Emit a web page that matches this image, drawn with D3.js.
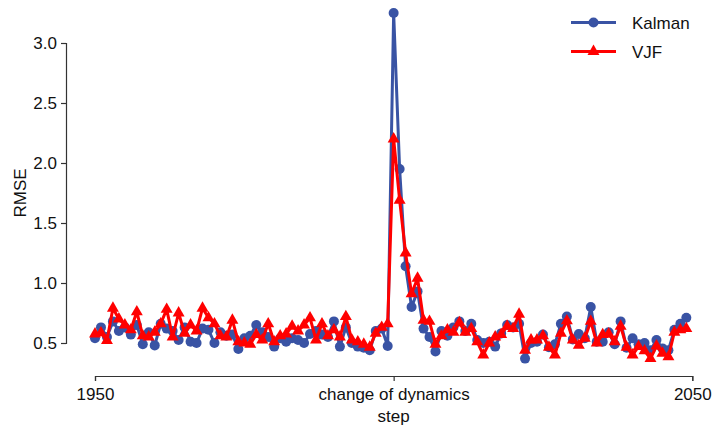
<!DOCTYPE html>
<html><head><meta charset="utf-8">
<script src="https://cdn.jsdelivr.net/npm/d3@7"></script>
<style>
html,body{margin:0;padding:0;background:#fff;}
text{font-family:"Liberation Sans",Arial,sans-serif;}
</style></head>
<body>
<svg id="chart" width="717" height="429"></svg>
<script>
const startStep = 1950;
const kalman = [0.54,0.63,0.55,0.68,0.60,0.63,0.57,0.65,0.49,0.59,
0.48,0.66,0.62,0.60,0.525,0.63,0.51,0.50,0.62,0.61,
0.50,0.59,0.56,0.57,0.45,0.54,0.56,0.65,0.59,0.55,
0.47,0.54,0.51,0.54,0.525,0.50,0.575,0.60,0.57,0.55,
0.68,0.47,0.63,0.50,0.47,0.46,0.44,0.60,0.62,0.475,
3.25,1.95,1.14,0.80,0.93,0.62,0.55,0.43,0.60,0.56,
0.63,0.68,0.60,0.66,0.525,0.50,0.51,0.47,0.58,0.65,
0.63,0.66,0.37,0.50,0.51,0.57,0.465,0.49,0.66,0.72,
0.53,0.575,0.54,0.80,0.51,0.51,0.59,0.49,0.68,0.46,
0.54,0.49,0.50,0.44,0.525,0.455,0.44,0.61,0.66,0.71];
const vjf = [0.575,0.585,0.52,0.79,0.70,0.65,0.61,0.76,0.56,0.55,
0.59,0.66,0.78,0.55,0.75,0.58,0.65,0.60,0.79,0.71,
0.66,0.56,0.55,0.69,0.51,0.50,0.49,0.57,0.525,0.66,
0.51,0.56,0.575,0.64,0.60,0.65,0.71,0.525,0.66,0.56,
0.61,0.55,0.72,0.525,0.51,0.49,0.465,0.58,0.63,0.66,
2.20,1.69,1.25,0.91,1.04,0.69,0.68,0.49,0.56,0.61,
0.59,0.67,0.59,0.62,0.51,0.40,0.50,0.55,0.57,0.64,
0.62,0.74,0.44,0.525,0.525,0.56,0.465,0.40,0.58,0.685,
0.525,0.48,0.54,0.68,0.50,0.57,0.575,0.51,0.64,0.465,
0.40,0.47,0.435,0.37,0.475,0.415,0.385,0.59,0.61,0.62];
const xTicks = [1950, 2000, 2050];
const xTickLabels = ["1950", "change of dynamics", "2050"];
const yTicks = [0.5, 1.0, 1.5, 2.0, 2.5, 3.0];
const seriesNames = ["Kalman", "VJF"];

const FS = 17;
const svg = d3.select("#chart");
const x = d3.scaleLinear().domain([1950, 2050]).range([95, 692.3]);
const y = d3.scaleLinear().domain([0.5, 3.0]).range([343, 43]);
const axisColor = "#333";

// Y axis
const gy = svg.append("g").attr("transform", "translate(66,0)")
  .call(d3.axisLeft(y).tickValues(yTicks).tickFormat(d3.format(".1f")).tickSize(5).tickPadding(4));
gy.select(".domain").attr("stroke", axisColor).attr("stroke-width", 1.2);
gy.selectAll(".tick line").attr("stroke", axisColor).attr("stroke-width", 1.2);
gy.selectAll(".tick text").attr("font-size", FS).attr("fill", "#111")
  .attr("font-family", "Liberation Sans, Arial, sans-serif");

// X axis
const gx = svg.append("g").attr("transform", "translate(0,376)")
  .call(d3.axisBottom(x).tickValues(xTicks).tickFormat((d,i) => xTickLabels[i]).tickSize(5).tickPadding(7));
gx.select(".domain").attr("stroke", axisColor).attr("stroke-width", 1.2);
gx.selectAll(".tick line").attr("stroke", axisColor).attr("stroke-width", 1.2);
gx.selectAll(".tick text").attr("font-size", FS).attr("fill", "#111")
  .attr("font-family", "Liberation Sans, Arial, sans-serif");

svg.append("text").attr("x", (x(1950)+x(2050))/2).attr("y", 422).attr("text-anchor", "middle")
  .attr("font-size", FS).attr("fill", "#111").text("step");
svg.append("text").attr("transform", "translate(26,193) rotate(-90)").attr("text-anchor", "middle")
  .attr("font-size", FS).attr("fill", "#111").text("RMSE");

const blue = "#3953a4", red = "#ff0000";
const line = d3.line().x((d,i) => x(startStep + i)).y(d => y(d));

// Kalman
svg.append("path").datum(kalman).attr("d", line).attr("fill", "none")
  .attr("stroke", blue).attr("stroke-width", 3).attr("stroke-linejoin", "round");
svg.append("g").selectAll("circle").data(kalman).join("circle")
  .attr("cx", (d,i) => x(startStep + i)).attr("cy", d => y(d)).attr("r", 5).attr("fill", blue);

// VJF
svg.append("path").datum(vjf).attr("d", line).attr("fill", "none")
  .attr("stroke", red).attr("stroke-width", 3).attr("stroke-linejoin", "round");
const tri = d3.symbol().type(d3.symbolTriangle).size(62);
svg.append("g").selectAll("path").data(vjf).join("path")
  .attr("d", tri).attr("transform", (d,i) => `translate(${x(startStep + i)},${y(d)})`).attr("fill", red);

// Legend
const leg = svg.append("g");
const legItems = [{name: seriesNames[0], color: blue, y: 22.5, sym: "circle"},
                  {name: seriesNames[1], color: red, y: 51.5, sym: "tri"}];
legItems.forEach(it => {
  leg.append("line").attr("x1", 571).attr("x2", 616).attr("y1", it.y).attr("y2", it.y)
    .attr("stroke", it.color).attr("stroke-width", 3);
  if (it.sym === "circle") leg.append("circle").attr("cx", 593.5).attr("cy", it.y).attr("r", 5).attr("fill", it.color);
  else leg.append("path").attr("d", tri).attr("transform", `translate(593.5,${it.y})`).attr("fill", it.color);
  leg.append("text").attr("x", 632).attr("y", it.y + 6).attr("font-size", FS).attr("fill", "#111").text(it.name);
});
</script>
</body></html>
